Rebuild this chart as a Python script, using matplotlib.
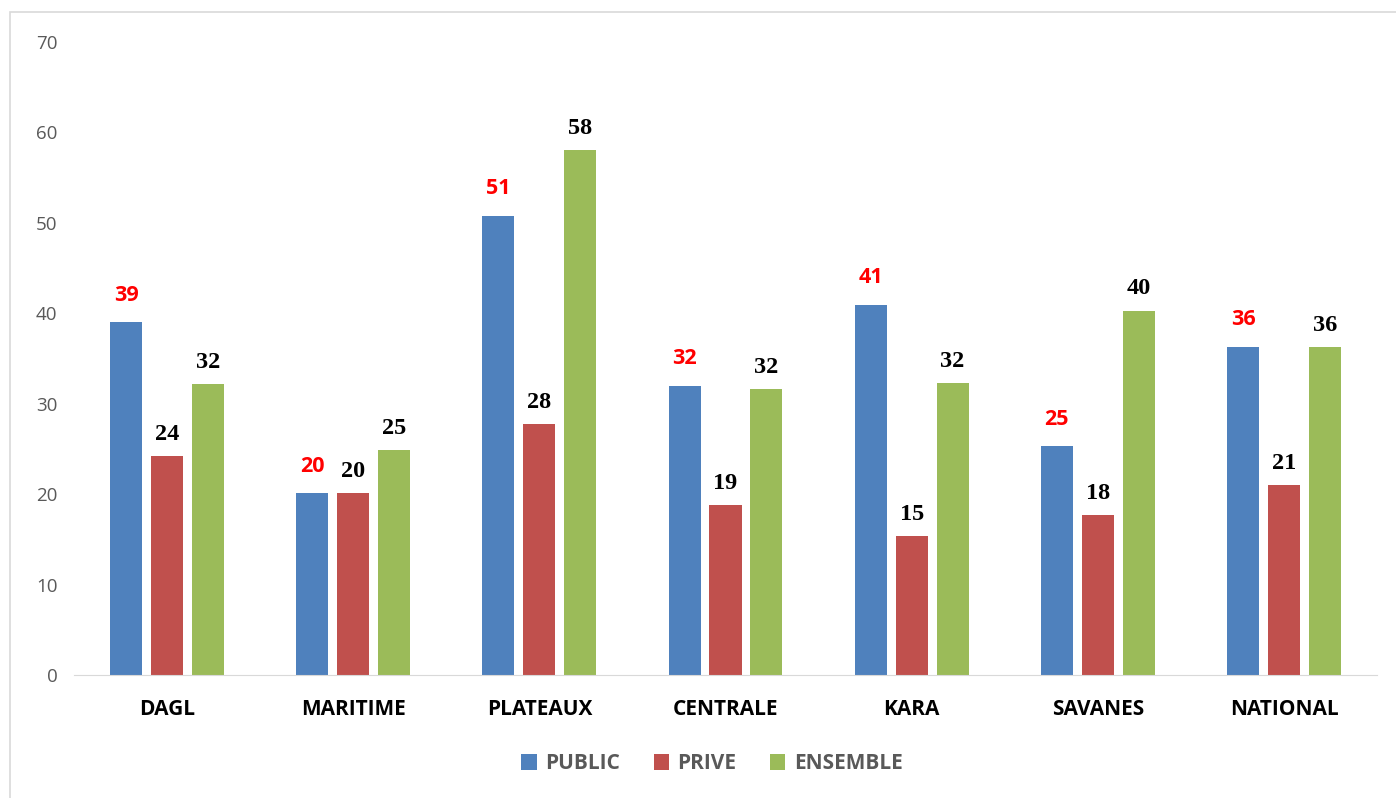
import numpy as np
import matplotlib
matplotlib.use("Agg")
import matplotlib.pyplot as plt
from matplotlib.patches import Rectangle

# donnees
regions = ["DAGL", "MARITIME", "PLATEAUX", "CENTRALE", "KARA", "SAVANES", "NATIONAL"]
public = [39.0, 20.1, 50.8, 32.0, 40.9, 25.3, 36.3]
prive = [24.2, 20.1, 27.8, 18.8, 15.4, 17.7, 21.0]
ensemble = [32.2, 24.9, 58.0, 31.6, 32.3, 40.3, 36.3]

couleurs = ["#4F81BD", "#C0504D", "#9BBB59"]
noms = ["PUBLIC", "PRIVE", "ENSEMBLE"]

fig = plt.figure(figsize=(13.96, 7.98), dpi=100)
ax = fig.add_axes([0.053, 0.1541, 0.9334, 0.7933])

# cadre gris du graphique
fig.patches.append(Rectangle((10 / 1396, -0.05), 1.1, 1 - 12 / 798 + 0.05,
                             transform=fig.transFigure, fill=False,
                             edgecolor="#d9d9d9", linewidth=1.2))

x = np.arange(len(regions))
w = 0.172
pas = 0.22
series = [public, prive, ensemble]

for i, vals in enumerate(series):
    barres = ax.bar(x + (i - 1) * pas, vals, w, color=couleurs[i], label=noms[i])
    for b, v in zip(barres, vals):
        if i == 0:
            ax.annotate(f"{v:.0f}", (b.get_x() + b.get_width() / 2, v),
                        xytext=(0, 12), textcoords="offset points",
                        ha="center", va="bottom", color="red",
                        fontsize=15.5, fontweight="bold", family="Open Sans")
        else:
            ax.annotate(f"{v:.0f}", (b.get_x() + b.get_width() / 2, v),
                        xytext=(0, 8), textcoords="offset points",
                        ha="center", va="bottom", color="black",
                        fontsize=17.5, fontweight="bold", family="Liberation Serif")

ax.set_xlim(-0.5, len(regions) - 0.5)
ax.set_ylim(0, 70)
ax.set_yticks(range(0, 71, 10))
ax.set_xticks(x)
ax.set_xticklabels(regions, fontsize=15, fontweight="bold", family="Open Sans")
for t in ax.get_yticklabels():
    t.set_fontsize(13.5)
    t.set_color("#595959")
    t.set_family("Open Sans")

for s in ["top", "right", "left"]:
    ax.spines[s].set_visible(False)
ax.spines["bottom"].set_color("#d9d9d9")
ax.tick_params(axis="y", length=0, pad=12)
ax.tick_params(axis="x", length=0, pad=17)

leg = fig.legend(loc="center", bbox_to_anchor=(0.51, 0.043), ncol=3, frameon=False,
                 prop={"family": "Open Sans", "weight": "bold", "size": 15},
                 handlelength=0.75, handleheight=0.75, columnspacing=1.6, handletextpad=0.4)
for t in leg.get_texts():
    t.set_color("#595959")

fig.savefig("out.png", dpi=100)
